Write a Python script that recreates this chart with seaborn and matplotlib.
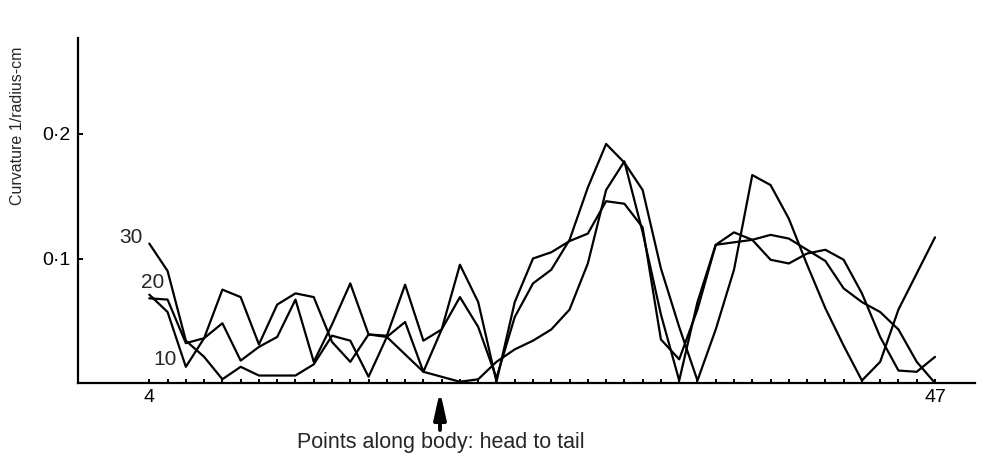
import matplotlib
matplotlib.use("Agg")
import matplotlib.pyplot as plt
import seaborn as sns
import pandas as pd

# ---- data ----
points = list(range(4, 48))
curv_30 = [0.112, 0.090, 0.034, 0.021, 0.003, 0.013, 0.006, 0.006, 0.006, 0.015,
           0.038, 0.034, 0.005, 0.037, 0.023, 0.009, 0.005, 0.001, 0.003, 0.017,
           0.027, 0.034, 0.043, 0.059, 0.096, 0.155, 0.178, 0.121, 0.055, 0.002,
           0.065, 0.111, 0.121, 0.115, 0.099, 0.096, 0.104, 0.107, 0.099, 0.072,
           0.037, 0.010, 0.009, 0.021]
curv_20 = [0.071, 0.057, 0.013, 0.036, 0.075, 0.069, 0.031, 0.063, 0.072, 0.069,
           0.033, 0.017, 0.039, 0.037, 0.049, 0.009, 0.043, 0.069, 0.045, 0.004,
           0.053, 0.080, 0.091, 0.115, 0.157, 0.192, 0.177, 0.155, 0.092, 0.045,
           0.002, 0.043, 0.091, 0.167, 0.159, 0.132, 0.095, 0.060, 0.030, 0.002,
           0.017, 0.059, 0.088, 0.117]
curv_10 = [0.068, 0.067, 0.032, 0.036, 0.048, 0.018, 0.029, 0.037, 0.067, 0.017,
           0.047, 0.080, 0.039, 0.038, 0.079, 0.034, 0.043, 0.095, 0.065, 0.001,
           0.065, 0.100, 0.105, 0.114, 0.120, 0.146, 0.144, 0.125, 0.035, 0.019,
           0.059, 0.111, 0.113, 0.115, 0.119, 0.116, 0.107, 0.098, 0.076, 0.065,
           0.057, 0.043, 0.017, 0.000]
series_labels = ["30", "20", "10"]
y_ticks = [0.1, 0.2]
y_tick_labels = ["0·1", "0·2"]
x_ticks = [4, 47]
x_tick_labels = ["4", "47"]

df = pd.DataFrame({
    "point": points * 3,
    "curvature": curv_30 + curv_20 + curv_10,
    "series": [series_labels[0]] * len(points) + [series_labels[1]] * len(points)
              + [series_labels[2]] * len(points),
})

sns.set_style("ticks")
plt.rcParams["font.family"] = ["Liberation Sans", "DejaVu Sans"]

W, H = 984, 457
fig = plt.figure(figsize=(W / 100, H / 100), dpi=100)
x_left, x_right, y_base, y_top = 78, 975, 383, 38
ax = fig.add_axes([x_left / W, (H - y_base) / H, (x_right - x_left) / W, (y_base - y_top) / H])

sns.lineplot(data=df, x="point", y="curvature", units="series", estimator=None,
             color="black", linewidth=1.6, ax=ax, legend=False)

# scales: tick 4 at px 149.3, 47 at px 935
sp = (935 - 149.3) / 43
ax.set_xlim(4 - (149.3 - x_left) / sp, 47 + (x_right - 935) / sp)
ax.set_ylim(0, (y_base - y_top) / 1245)

for s in ["top", "right"]:
    ax.spines[s].set_visible(False)
for s in ["left", "bottom"]:
    ax.spines[s].set_linewidth(1.6)
    ax.spines[s].set_color("black")

ax.set_xticks(x_ticks)
ax.set_xticklabels(x_tick_labels)
ax.set_xticks(points, minor=True)
ax.set_yticks(y_ticks)
ax.set_yticklabels(y_tick_labels)
ax.tick_params(axis="x", which="both", direction="in", length=3, width=1.4,
               colors="black", labelsize=14, pad=4)
ax.tick_params(axis="y", which="both", direction="in", length=3.5, width=1.4,
               colors="black", labelsize=14, pad=5.5)
ax.set_xlabel("")
ax.set_ylabel("")
ax.grid(False)
ax.set_facecolor("white")

# series labels
ax.text(3.0, 0.117, series_labels[0], fontsize=15, ha="center", va="center")
ax.text(4.2, 0.081, series_labels[1], fontsize=15, ha="center", va="center")
ax.text(4.86, 0.019, series_labels[2], fontsize=15, ha="center", va="center")

# y label
fig.text(18 / W, 1 - 126 / H, "Curvature 1/radius-cm", rotation=90,
         ha="center", va="center", fontsize=11.5)

# x caption and arrow
fig.text(441 / W, 1 - 448 / H, "Points along body: head to tail",
         ha="center", va="baseline", fontsize=15.5)
ax.annotate("", xy=(440, H - 391), xytext=(440, H - 430),
            xycoords="figure pixels", textcoords="figure pixels",
            arrowprops=dict(arrowstyle="-|>,head_length=1.6,head_width=0.36",
                            lw=2.8, color="black", shrinkA=0, shrinkB=0,
                            mutation_scale=10))

fig.savefig("out.png", dpi=100, facecolor="white")
